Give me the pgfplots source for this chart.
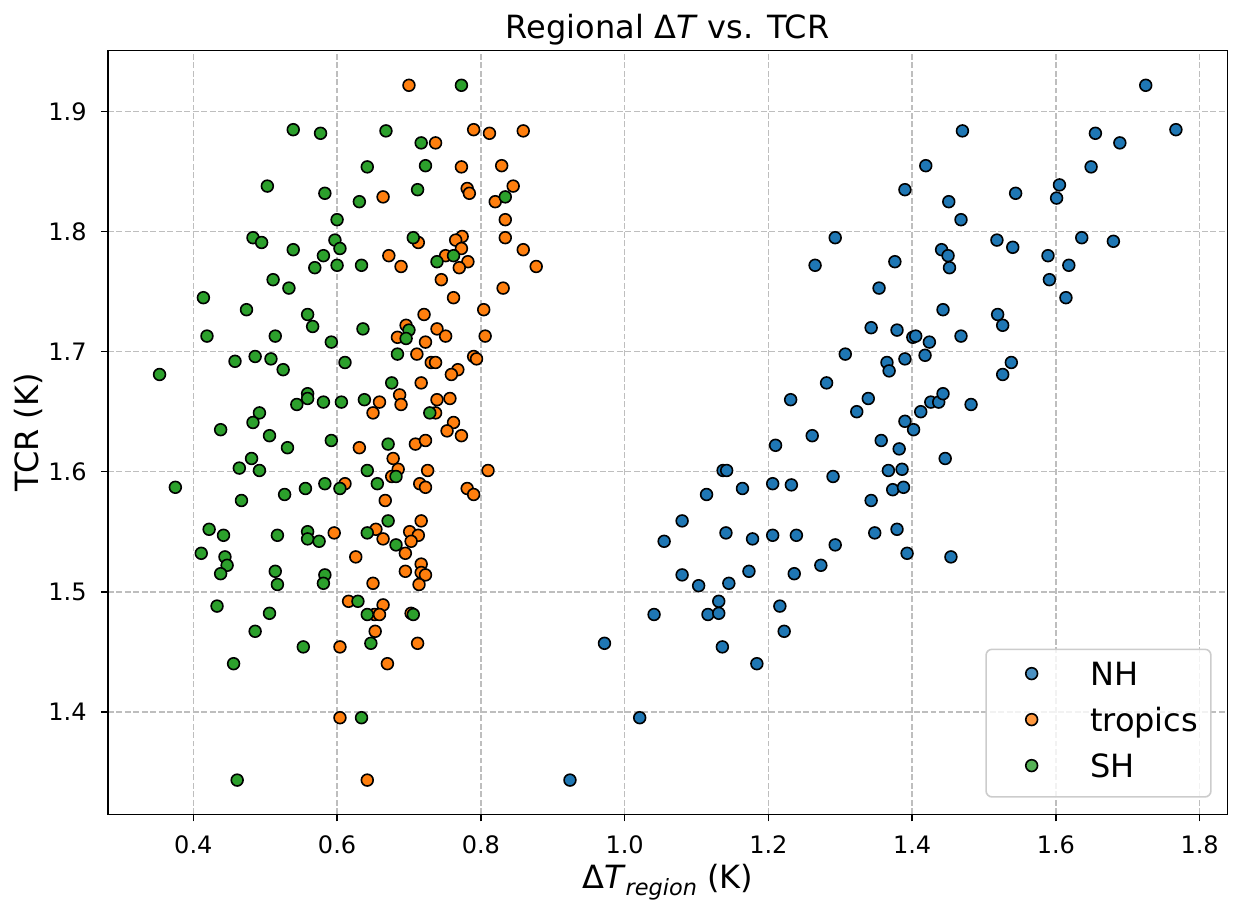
\documentclass[border=0pt]{standalone}
\usepackage{pgfplots}
\pgfplotsset{compat=1.18}
\usepackage{fontspec}
\setmainfont{DejaVu Sans}
\definecolor{nh}{HTML}{1F77B4}
\definecolor{tr}{HTML}{FF7F0E}
\definecolor{sh}{HTML}{2CA02C}
\definecolor{gridc}{RGB}{190,190,190}
\pgfplotsset{
  myscat/.style={only marks, mark=*, mark size=2.95pt,
    mark options={draw=black, line width=0.8pt, fill=#1},
    legend image code/.code={\path (0pt,0pt) (32pt,0pt); \draw[##1] plot coordinates {(16pt,1.75pt)};}}
}
\begin{document}
\begin{tikzpicture}
\begin{axis}[
  name=ax,
  width=559.65pt, height=381.9pt, scale only axis,
  xmin=0.2813, xmax=1.8385, ymin=1.3145, ymax=1.951,
  xtick={0.4,0.6,0.8,1.0,1.2,1.4,1.6,1.8},
  xticklabels={0.4,0.6,0.8,1.0,1.2,1.4,1.6,1.8},
  ytick={1.4,1.5,1.6,1.7,1.8,1.9},
  yticklabels={1.4,1.5,1.6,1.7,1.8,1.9},
  tick label style={font=\fontsize{12}{14}\selectfont},
  xticklabel style={inner sep=0pt, anchor=north, yshift=-7pt},
  yticklabel style={inner sep=0pt, anchor=east, xshift=-7pt},
  tick align=outside, tick pos=left, major tick length=3.5pt,
  tick style={black, line width=0.8pt},
  axis line style={black, line width=0.8pt},
  grid=major,
  major grid style={gridc, line width=0.8pt, dash pattern=on 2.96pt off 1.28pt},
  title={Regional Δ\textit{T} vs. TCR},
  title style={at={(axis description cs:0.5,1)}, anchor=base, inner sep=0pt, font=\fontsize{16}{19}\selectfont},
  xlabel={Δ\textit{T}\raisebox{-0.22em}{\fontsize{11.2}{12}\selectfont\itshape region} (K)},
  xlabel style={at={(axis description cs:0.5,-0.0969)}, anchor=base, inner sep=0pt, font=\fontsize{16}{19}\selectfont},
  ylabel={TCR (K)},
  ylabel style={at={(axis description cs:-0.0625,0.5)}, anchor=base, inner sep=0pt, font=\fontsize{16}{19}\selectfont},
  legend style={
    at={(axis description cs:1,0)}, anchor=south east, xshift=-7.8pt, yshift=8.3pt,
    draw=black!20, line width=0.8pt, rounded corners=3pt, fill=white, fill opacity=0.8, text opacity=1,
    font=\fontsize{16}{19}\selectfont,
    inner xsep=6.4pt, inner ysep=6pt, row sep=7.2pt,
    /tikz/every odd column/.append style={column sep=12.8pt},
    nodes={inner sep=0pt, text height=12pt, text depth=3.8pt},
  },
  legend cell align=left,
]
\addplot[myscat=nh] table {
x y
0.924 1.343
0.972 1.457
1.021 1.395
1.041 1.481
1.055 1.542
1.080 1.559
1.080 1.514
1.103 1.505
1.114 1.581
1.116 1.481
1.131 1.482
1.131 1.492
1.136 1.454
1.137 1.601
1.142 1.601
1.141 1.549
1.145 1.507
1.164 1.586
1.173 1.517
1.178 1.544
1.184 1.440
1.206 1.590
1.206 1.547
1.210 1.622
1.216 1.488
1.222 1.467
1.232 1.589
1.231 1.660
1.236 1.515
1.239 1.547
1.261 1.630
1.265 1.772
1.273 1.522
1.281 1.674
1.290 1.596
1.293 1.539
1.293 1.795
1.307 1.698
1.323 1.650
1.339 1.661
1.343 1.720
1.343 1.576
1.348 1.549
1.354 1.753
1.357 1.626
1.365 1.691
1.368 1.684
1.367 1.601
1.373 1.585
1.376 1.775
1.379 1.718
1.379 1.552
1.382 1.619
1.386 1.602
1.388 1.587
1.390 1.835
1.390 1.694
1.390 1.642
1.393 1.532
1.401 1.712
1.405 1.713
1.402 1.635
1.412 1.650
1.418 1.697
1.419 1.855
1.424 1.708
1.426 1.658
1.437 1.658
1.441 1.785
1.443 1.735
1.443 1.665
1.446 1.611
1.450 1.780
1.451 1.825
1.452 1.770
1.454 1.529
1.468 1.810
1.468 1.713
1.470 1.884
1.482 1.656
1.518 1.793
1.519 1.731
1.526 1.722
1.526 1.681
1.538 1.691
1.540 1.787
1.544 1.832
1.589 1.780
1.591 1.760
1.601 1.828
1.605 1.839
1.614 1.745
1.618 1.772
1.636 1.795
1.649 1.854
1.655 1.882
1.680 1.792
1.689 1.874
1.725 1.922
1.767 1.885
};
\addlegendentry{NH}
\addplot[myscat=tr] table {
x y
0.700 1.922
0.790 1.885
0.812 1.882
0.859 1.884
0.737 1.874
0.773 1.854
0.829 1.855
0.845 1.838
0.781 1.836
0.784 1.832
0.820 1.825
0.664 1.829
0.834 1.810
0.834 1.795
0.774 1.796
0.765 1.793
0.713 1.791
0.773 1.786
0.859 1.785
0.877 1.771
0.672 1.780
0.689 1.771
0.751 1.780
0.782 1.775
0.770 1.770
0.745 1.760
0.831 1.753
0.762 1.745
0.804 1.735
0.721 1.731
0.696 1.722
0.684 1.712
0.739 1.719
0.751 1.713
0.806 1.713
0.723 1.708
0.711 1.698
0.731 1.691
0.737 1.691
0.790 1.696
0.794 1.694
0.768 1.685
0.759 1.681
0.717 1.674
0.687 1.664
0.689 1.656
0.659 1.658
0.650 1.649
0.739 1.660
0.757 1.661
0.737 1.649
0.762 1.641
0.753 1.634
0.773 1.630
0.631 1.620
0.709 1.623
0.723 1.626
0.678 1.611
0.685 1.602
0.676 1.596
0.726 1.601
0.810 1.601
0.715 1.590
0.723 1.587
0.611 1.590
0.781 1.586
0.790 1.581
0.667 1.576
0.717 1.559
0.596 1.549
0.654 1.552
0.664 1.544
0.701 1.550
0.713 1.547
0.703 1.542
0.626 1.529
0.650 1.507
0.695 1.532
0.695 1.517
0.717 1.523
0.717 1.516
0.723 1.514
0.714 1.506
0.616 1.492
0.664 1.489
0.652 1.481
0.659 1.481
0.703 1.482
0.653 1.467
0.604 1.454
0.712 1.457
0.670 1.440
0.604 1.395
0.642 1.343
};
\addlegendentry{tropics}
\addplot[myscat=sh] table {
x y
0.539 1.885
0.577 1.882
0.503 1.838
0.583 1.832
0.483 1.795
0.495 1.791
0.539 1.785
0.581 1.780
0.569 1.770
0.511 1.760
0.533 1.753
0.414 1.745
0.773 1.922
0.668 1.884
0.717 1.874
0.642 1.854
0.723 1.855
0.712 1.835
0.631 1.825
0.834 1.829
0.600 1.810
0.597 1.793
0.604 1.786
0.600 1.772
0.634 1.772
0.706 1.795
0.739 1.775
0.762 1.780
0.474 1.735
0.559 1.731
0.566 1.721
0.592 1.708
0.419 1.713
0.514 1.713
0.458 1.692
0.486 1.696
0.508 1.694
0.525 1.685
0.353 1.681
0.559 1.665
0.559 1.661
0.544 1.656
0.581 1.658
0.492 1.649
0.483 1.641
0.438 1.635
0.506 1.630
0.531 1.620
0.592 1.626
0.481 1.611
0.464 1.603
0.492 1.601
0.375 1.587
0.467 1.576
0.527 1.581
0.556 1.586
0.583 1.590
0.422 1.552
0.442 1.547
0.517 1.547
0.559 1.550
0.559 1.544
0.575 1.542
0.636 1.719
0.700 1.718
0.696 1.711
0.684 1.698
0.611 1.691
0.676 1.674
0.606 1.658
0.638 1.660
0.729 1.649
0.671 1.623
0.642 1.601
0.682 1.596
0.656 1.590
0.604 1.586
0.671 1.559
0.642 1.549
0.682 1.539
0.411 1.532
0.444 1.529
0.447 1.522
0.438 1.515
0.514 1.517
0.517 1.506
0.583 1.514
0.581 1.507
0.433 1.488
0.506 1.482
0.486 1.467
0.553 1.454
0.456 1.440
0.461 1.343
0.629 1.492
0.642 1.481
0.706 1.481
0.647 1.457
0.634 1.395
};
\addlegendentry{SH}
\end{axis}
\pgfresetboundingbox
\path ([xshift=-54pt,yshift=-42.85pt]ax.south west) rectangle ([xshift=3.85pt,yshift=25.25pt]ax.north east);
\end{tikzpicture}
\end{document}
